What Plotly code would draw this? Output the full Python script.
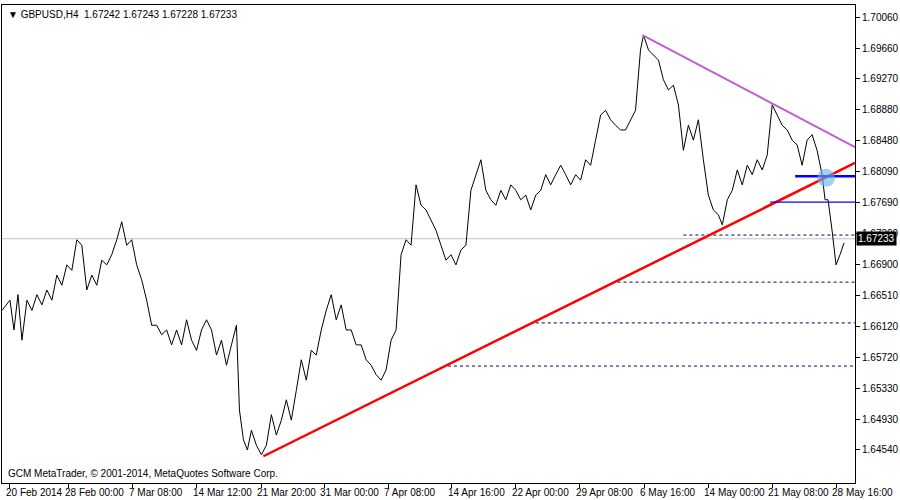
import plotly.graph_objects as go

bar_x = [0,8,12,16,20,25,30,35,40,45,50,55,60,65,70,75,80,85,90,95,100,105,110,115,120,125,130,135,140,145,150,155,160,165,170,175,180,185,190,195,200,205,210,215,220,225,230,235,238,242,246,250,255,260,265,270,275,280,285,290,295,300,305,310,315,320,325,330,335,340,345,350,355,360,365,370,375,380,385,390,395,400,405,410,415,420,425,430,435,440,445,450,455,460,465,470,475,480,485,490,495,500,505,510,515,520,525,530,535,540,545,550,555,560,565,570,575,580,585,590,595,600,605,610,615,620,625,630,635,640,643,648,653,658,663,668,673,678,683,688,693,698,703,708,713,718,722,727,732,737,742,747,752,757,762,767,772,777,782,787,792,797,802,807,812,817,822,825,828,832,836,840,844]
price = [1.6632,1.6645,1.6607,1.6652,1.6594,1.6645,1.6632,1.6652,1.6639,1.6658,1.6645,1.6677,1.6664,1.6690,1.6683,1.6722,1.6715,1.6658,1.6677,1.6664,1.6696,1.6690,1.6703,1.6722,1.6745,1.6715,1.6722,1.6690,1.6671,1.6645,1.6613,1.6613,1.6601,1.6607,1.6588,1.6607,1.6588,1.6620,1.6594,1.6581,1.6607,1.6620,1.6607,1.6575,1.6594,1.6562,1.6588,1.6613,1.6505,1.6467,1.6454,1.6479,1.6460,1.6448,1.6460,1.6499,1.6473,1.6492,1.6518,1.6492,1.6530,1.6569,1.6543,1.6581,1.6575,1.6607,1.6632,1.6652,1.6620,1.6639,1.6607,1.6607,1.6588,1.6588,1.6569,1.6562,1.6550,1.6543,1.6556,1.6594,1.6607,1.6703,1.6722,1.6715,1.6792,1.6766,1.6760,1.6747,1.6734,1.6715,1.6696,1.6703,1.6690,1.6709,1.6715,1.6785,1.6805,1.6824,1.6785,1.6773,1.6766,1.6785,1.6773,1.6792,1.6785,1.6773,1.6779,1.6760,1.6779,1.6785,1.6805,1.6792,1.6805,1.6817,1.6805,1.6792,1.6805,1.6798,1.6824,1.6817,1.6849,1.6881,1.6887,1.6875,1.6868,1.6862,1.6862,1.6875,1.6887,1.6964,1.6983,1.6964,1.6958,1.6951,1.6926,1.6913,1.6919,1.6894,1.6836,1.6868,1.6849,1.6875,1.6824,1.6779,1.6760,1.6754,1.6741,1.6773,1.6785,1.6811,1.6792,1.6817,1.6805,1.6824,1.6811,1.6830,1.6894,1.6881,1.6868,1.6862,1.6849,1.6843,1.6817,1.6849,1.6856,1.6836,1.6805,1.6773,1.6773,1.6734,1.6690,1.6703,1.6718,1.67233]

tick_x = [8,67,131,195,260,323,387,451,515,579,644,708,772,836]
tick_text = ["20 Feb 2014","28 Feb 00:00","7 Mar 08:00","14 Mar 12:00","21 Mar 20:00","31 Mar 00:00","7 Apr 08:00","14 Apr 16:00","22 Apr 00:00","29 Apr 08:00","6 May 16:00","14 May 00:00","21 May 08:00","28 May 16:00"]
y_ticks = [1.70060,1.69660,1.69270,1.68880,1.68480,1.68090,1.67690,1.67300,1.66900,1.66510,1.66120,1.65720,1.65330,1.64930,1.64540]

trend_red = ([262, 855], [1.6446, 1.6820])
trend_mag = ([642, 855], [1.6983, 1.6840])
blue_thick = ([795, 855], [1.6803, 1.6803])
blue_thin = ([770, 855], [1.6770, 1.6770])
dashed = [(683, 1.6728), (617, 1.6668), (535, 1.6616), (447, 1.6561)]
last_price = 1.67233

FONT = "Liberation Sans"
fig = go.Figure()
fig.add_trace(go.Scatter(x=[0, 855], y=[last_price]*2, mode="lines", line=dict(color="#c0c0c0", width=1)))
for x0, yv in dashed:
    fig.add_trace(go.Scatter(x=[x0, 855], y=[yv, yv], mode="lines", line=dict(color="#000060", width=1, dash="3px,3px")))
fig.add_trace(go.Scatter(x=bar_x, y=price, mode="lines", line=dict(color="black", width=1)))
fig.add_trace(go.Scatter(x=trend_red[0], y=trend_red[1], mode="lines", line=dict(color="#ff0000", width=2.5)))
fig.add_trace(go.Scatter(x=trend_mag[0], y=trend_mag[1], mode="lines", line=dict(color="#c060d0", width=2)))
fig.add_trace(go.Scatter(x=blue_thick[0], y=blue_thick[1], mode="lines", line=dict(color="#0000ff", width=2.5)))
fig.add_trace(go.Scatter(x=blue_thin[0], y=blue_thin[1], mode="lines", line=dict(color="#0000ff", width=1.2)))
fig.add_trace(go.Scatter(x=[826], y=[1.6801], mode="markers", marker=dict(size=18, color="rgba(100,180,230,0.6)")))

annots = [
    dict(x=0.005, y=0.995, xref="paper", yref="paper", xanchor="left", yanchor="top", showarrow=False,
         text="▼ GBPUSD,H4  1.67242 1.67243 1.67228 1.67233", font=dict(size=10)),
    dict(x=0.005, y=0.005, xref="paper", yref="paper", xanchor="left", yanchor="bottom", showarrow=False,
         text="GCM MetaTrader, © 2001-2014, MetaQuotes Software Corp.", font=dict(size=10)),
    dict(x=1.0, y=last_price, xref="paper", yref="y", xanchor="left", yanchor="middle", showarrow=False,
         text="1.67233", bgcolor="black", font=dict(size=10, color="white"), xshift=1, borderpad=1),
]
for tx, tt in zip(tick_x, tick_text):
    annots.append(dict(x=tx, y=0, xref="x", yref="paper", xanchor="left", yanchor="top", showarrow=False,
                       text=tt, font=dict(size=10), xshift=-6, yshift=-2))

fig.update_layout(
    width=900, height=500, showlegend=False, plot_bgcolor="white", paper_bgcolor="white",
    margin=dict(l=2, r=45, t=5, b=17, autoexpand=False),
    font=dict(family=FONT, size=10, color="black"),
    xaxis=dict(range=[0, 855], tickvals=tick_x, showticklabels=False, showgrid=False, zeroline=False,
               showline=True, linecolor="black", mirror=True, ticks="outside", ticklen=4, tickcolor="black"),
    yaxis=dict(range=[1.64119, 1.70213], side="right", tickvals=y_ticks, ticktext=[f"{v:.5f}" for v in y_ticks],
               showgrid=False, zeroline=False, showline=True, linecolor="black", mirror=True,
               ticks="outside", ticklen=4, tickcolor="black", automargin=False),
    annotations=annots,
)
fig.write_html("out.html", config={"displayModeBar": False},
               post_script="document.body.style.margin='0';document.body.style.overflow='hidden';")
